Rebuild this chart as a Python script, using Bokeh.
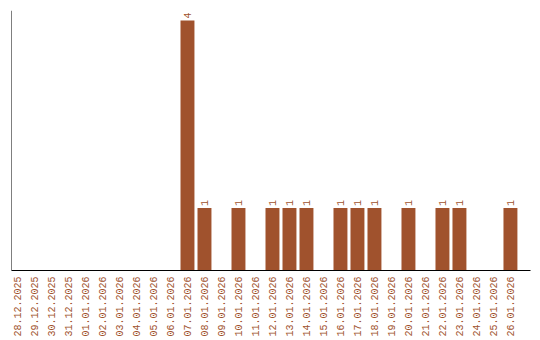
import math
from bokeh.plotting import figure
from bokeh.models import ColumnDataSource, FixedTicker, Span, Range1d
from bokeh.core.properties import value
from bokeh.embed import file_html
from bokeh.resources import INLINE

dates = ["28.12.2025", "29.12.2025", "30.12.2025", "31.12.2025",
         "01.01.2026", "02.01.2026", "03.01.2026", "04.01.2026", "05.01.2026",
         "06.01.2026", "07.01.2026", "08.01.2026", "09.01.2026", "10.01.2026",
         "11.01.2026", "12.01.2026", "13.01.2026", "14.01.2026", "15.01.2026",
         "16.01.2026", "17.01.2026", "18.01.2026", "19.01.2026", "20.01.2026",
         "21.01.2026", "22.01.2026", "23.01.2026", "24.01.2026", "25.01.2026",
         "26.01.2026"]
counts = [0, 0, 0, 0, 0, 0, 0, 0, 0, 0, 4, 1, 0, 1, 0, 1, 1, 1, 0, 1, 1, 1, 0, 1, 0, 1, 1, 0, 0, 1]

COLOR = "#A0522D"
FONT = "Liberation Mono"

idx = list(range(len(dates)))
src = ColumnDataSource(dict(x=idx, top=counts))
nz = [i for i, c in enumerate(counts) if c > 0]
lab = ColumnDataSource(dict(x=nz, y=[counts[i] for i in nz], t=[str(counts[i]) for i in nz]))

xmin, xmax = -0.353, 30.18
p = figure(frame_width=519, frame_height=260, output_backend="svg", toolbar_location=None,
           x_range=Range1d(xmin, xmax), y_range=Range1d(0, 4.16),
           min_border_left=11, min_border_right=10, min_border_top=10, min_border_bottom=0)
p.outline_line_color = None
p.grid.visible = False
p.background_fill_color = "white"
p.border_fill_color = "white"

p.vbar(x="x", top="top", width=0.82, bottom=0, source=src, fill_color=COLOR, line_color=None)
p.text(x="x", y="y", text="t", source=lab, angle=math.pi / 2, text_align="left",
       text_baseline="middle", y_offset=-2, text_color=COLOR,
       text_font=value(FONT), text_font_size="10px")

p.yaxis.visible = False
p.add_layout(Span(location=xmin, dimension="height", line_color="black", line_width=1))

ax = p.xaxis[0]
ax.ticker = FixedTicker(ticks=idx)
ax.major_label_overrides = {i: d for i, d in enumerate(dates)}
ax.major_label_orientation = math.pi / 2
ax.major_label_text_font = FONT
ax.major_label_text_font_size = "10px"
ax.major_label_text_color = COLOR
ax.major_tick_line_color = None
ax.minor_tick_line_color = None
ax.major_tick_out = 0
ax.major_tick_in = 0
ax.major_label_standoff = 6
ax.axis_line_color = "black"
ax.axis_line_width = 1

open("out.html", "w").write(file_html(p, INLINE))
